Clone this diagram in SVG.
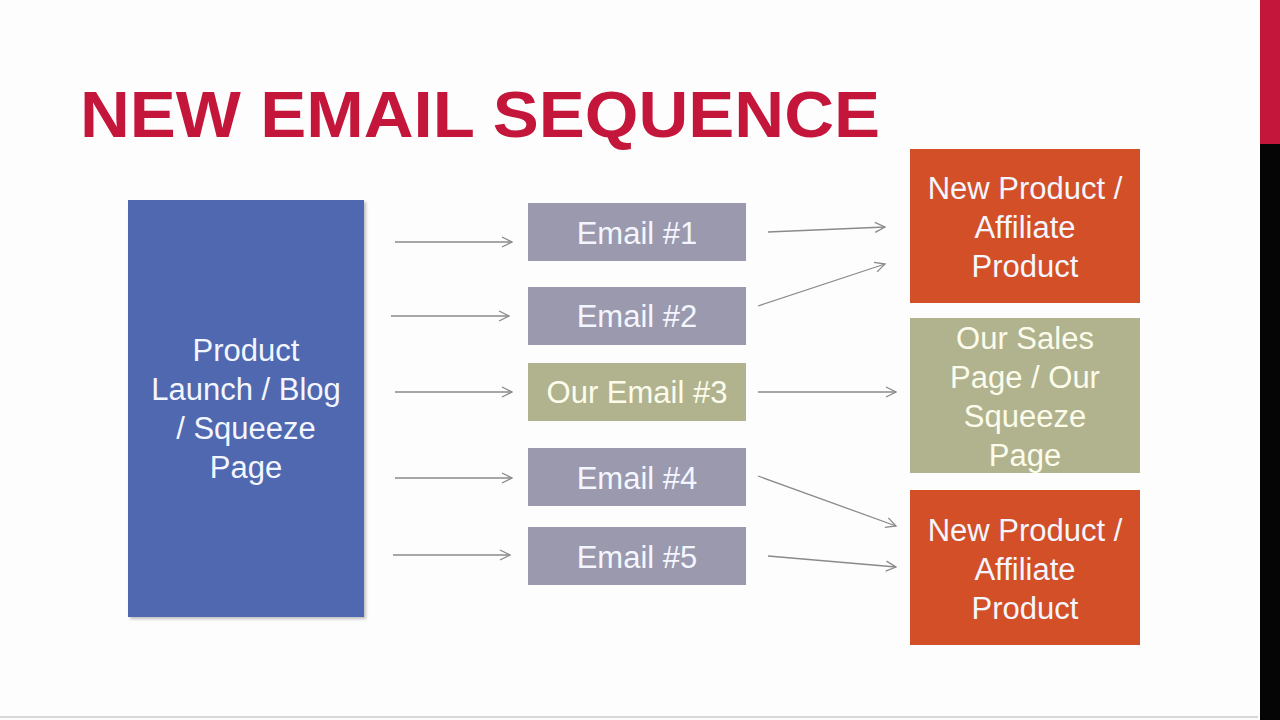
<svg xmlns="http://www.w3.org/2000/svg" width="1280" height="720" viewBox="0 0 1280 720">
<style>
.t{font-family:"Liberation Sans",Arial,sans-serif;font-size:31px;fill:#F4F6FF;text-anchor:middle}
.c{stroke:#8a8a8a;stroke-width:1.3;fill:none;marker-end:url(#ah)}
.title{font-family:"Liberation Sans",Arial,sans-serif;font-weight:bold;font-size:65px;fill:#C4153A}
.em{fill:#9B99AE}
.ol{fill:#B1B38E}
.or{fill:#D24F27}
.cr{fill:#FCFCEC}
</style>
<defs>
<marker id="ah" viewBox="0 0 12 12" refX="11" refY="6" markerWidth="12" markerHeight="12" markerUnits="userSpaceOnUse" orient="auto">
<path d="M1,1 L11,6 L1,11" fill="none" stroke="#8a8a8a" stroke-width="1.3"/>
</marker>
<filter id="sh" x="-5%" y="-5%" width="115%" height="115%">
<feDropShadow dx="2" dy="2" stdDeviation="1.5" flood-color="#000" flood-opacity="0.25"/>
</filter>
</defs>
<rect x="0" y="0" width="1280" height="720" fill="#fdfdfd"/>
<rect x="1260" y="0" width="20" height="144" fill="#C4153A"/>
<rect x="1260" y="144" width="20" height="576" fill="#050505"/>
<text class="title" x="80" y="137" textLength="800" lengthAdjust="spacingAndGlyphs">NEW EMAIL SEQUENCE</text>

<g id="source">
<rect x="128" y="200" width="236" height="417" fill="#5068B0" filter="url(#sh)"/>
<text class="t" x="246" y="361">Product</text>
<text class="t" x="246" y="400">Launch / Blog</text>
<text class="t" x="246" y="439">/ Squeeze</text>
<text class="t" x="246" y="478">Page</text>
</g>

<g id="email1"><rect class="em" x="528" y="203" width="218" height="58"/><text class="t" x="637" y="244">Email #1</text></g>
<g id="email2"><rect class="em" x="528" y="287" width="218" height="58"/><text class="t" x="637" y="327">Email #2</text></g>
<g id="email3"><rect class="ol" x="528" y="363" width="218" height="58"/><text class="t cr" x="637" y="403">Our Email #3</text></g>
<g id="email4"><rect class="em" x="528" y="448" width="218" height="58"/><text class="t" x="637" y="489">Email #4</text></g>
<g id="email5"><rect class="em" x="528" y="527" width="218" height="58"/><text class="t" x="637" y="568">Email #5</text></g>

<g id="target1">
<rect class="or" x="910" y="149" width="230" height="154"/>
<text class="t" x="1025" y="199">New Product /</text>
<text class="t" x="1025" y="238">Affiliate</text>
<text class="t" x="1025" y="277">Product</text>
</g>
<g id="target2">
<rect class="ol" x="910" y="318" width="230" height="155"/>
<text class="t cr" x="1025" y="349">Our Sales</text>
<text class="t cr" x="1025" y="388">Page / Our</text>
<text class="t cr" x="1025" y="427">Squeeze</text>
<text class="t cr" x="1025" y="466">Page</text>
</g>
<g id="target3">
<rect class="or" x="910" y="490" width="230" height="155"/>
<text class="t" x="1025" y="541">New Product /</text>
<text class="t" x="1025" y="580">Affiliate</text>
<text class="t" x="1025" y="619">Product</text>
</g>

<g id="connectors">
<line class="c" x1="395" y1="242" x2="512" y2="242"/>
<line class="c" x1="391" y1="316" x2="509" y2="316"/>
<line class="c" x1="395" y1="392" x2="512" y2="392"/>
<line class="c" x1="395" y1="478" x2="512" y2="478"/>
<line class="c" x1="393" y1="555" x2="510" y2="555"/>
<line class="c" x1="768" y1="232" x2="885" y2="227"/>
<line class="c" x1="758" y1="306" x2="885" y2="264"/>
<line class="c" x1="758" y1="392" x2="896" y2="392"/>
<line class="c" x1="758" y1="476" x2="896" y2="526"/>
<line class="c" x1="768" y1="556" x2="896" y2="567"/>
</g>
<line x1="0" y1="717" x2="1258" y2="717" stroke="#d8d8d8" stroke-width="2"/>
</svg>
